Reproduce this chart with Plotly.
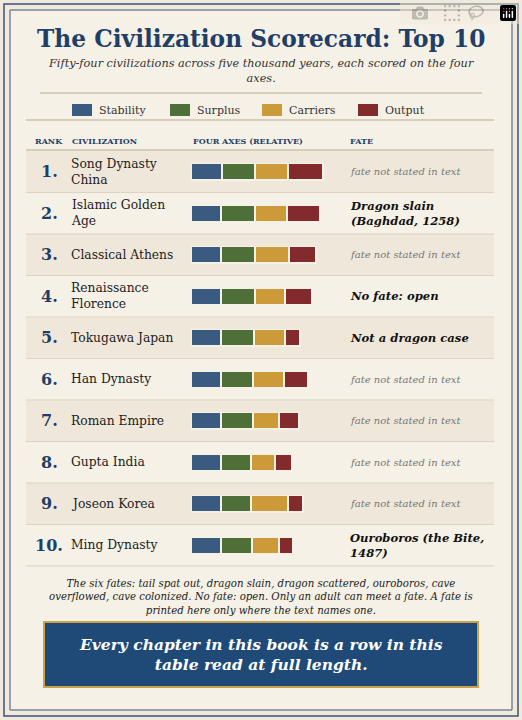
import plotly.graph_objects as go

W, H = 522, 720

ranks = ["1.", "2.", "3.", "4.", "5.", "6.", "7.", "8.", "9.", "10."]
names = ["Song Dynasty<br>China", "Islamic Golden<br>Age", "Classical Athens", "Renaissance<br>Florence",
         "Tokugawa Japan", "Han Dynasty", "Roman Empire", "Gupta India", "Joseon Korea", "Ming Dynasty"]
fates = ["fate not stated in text", "Dragon slain<br>(Baghdad, 1258)", "fate not stated in text",
         "No fate: open", "Not a dragon case", "fate not stated in text", "fate not stated in text",
         "fate not stated in text", "fate not stated in text", "Ouroboros (the Bite,<br>1487)"]
fate_named = [False, True, False, True, True, False, False, False, False, True]

stability = [31, 30, 30, 30, 30, 30, 30, 30, 30, 30]
surplus = [33, 34, 34, 34, 33, 32, 32, 30, 30, 31]
carriers = [33, 32, 34, 30, 31, 31, 26, 24, 37, 27]
output = [35, 33, 27, 27, 15, 24, 20, 17, 15, 14]

axes_names = ["Stability", "Surplus", "Carriers", "Output"]
colors = ["#3a5a80", "#4e7038", "#cc9a38", "#822a2c"]

NAVY = "#1f3f66"
SERIF = "'DejaVu Serif', serif"


def py(y):
    return 1 - y / H


def px(x):
    return x / W


fig = go.Figure()
keys = [str(i) for i in range(10)]
for vals, nm, c in zip([stability, surplus, carriers, output], axes_names, colors):
    fig.add_trace(go.Bar(y=keys, x=vals, orientation="h", name=nm, marker_color=c,
                         marker_line=dict(color="#f6f1e6", width=1.2), width=0.4,
                         showlegend=False, hoverinfo="skip"))

row_top, row_h = 151, 41.5
shapes = [
    dict(type="rect", xref="paper", yref="paper", x0=0, x1=1, y0=0, y1=1,
         fillcolor="#f1eadc", line_width=0, layer="below"),
    dict(type="rect", xref="paper", yref="paper", x0=px(4), x1=px(518), y0=py(716), y1=py(4),
         fillcolor="rgba(0,0,0,0)", line=dict(color="#3a5478", width=1.5), layer="below"),
    dict(type="rect", xref="paper", yref="paper", x0=px(10), x1=px(512), y0=py(710), y1=py(10),
         fillcolor="#f6f1e6", line=dict(color="#3a5478", width=1), layer="below"),
]
for yl in [93, 120, 150]:
    shapes.append(dict(type="line", xref="paper", yref="paper", x0=px(40) if yl == 93 else px(26),
                       x1=px(482) if yl == 93 else px(494), y0=py(yl), y1=py(yl),
                       line=dict(color="#b9ab8c", width=1)))
for i in range(10):
    y0 = row_top + i * row_h
    shapes.append(dict(type="rect", xref="paper", yref="paper", x0=px(26), x1=px(494),
                       y0=py(y0 + row_h), y1=py(y0), fillcolor="#efe8da" if i % 2 == 0 else "#f6f1e6",
                       line_width=0, layer="below"))
    shapes.append(dict(type="line", xref="paper", yref="paper", x0=px(26), x1=px(494),
                       y0=py(y0 + row_h), y1=py(y0 + row_h), line=dict(color="#ddd3c0", width=1)))
shapes.append(dict(type="rect", xref="paper", yref="paper", x0=px(44), x1=px(478), y0=py(687), y1=py(622),
                   fillcolor="#1f4a78", line=dict(color="#c9a24a", width=2)))

ann = []


def text(x, y, t, size, color="#222", anchor="left", bold=False, italic=False, fam=SERIF):
    s = t
    if bold:
        s = "<b>" + s + "</b>"
    if italic:
        s = "<i>" + s + "</i>"
    ann.append(dict(x=px(x), y=py(y), xref="paper", yref="paper", text=s, showarrow=False,
                    xanchor=anchor, yanchor="middle", align=anchor if anchor != "middle" else "center",
                    font=dict(size=size, color=color, family=fam)))


text(261, 38, "The Civilization Scorecard: Top 10", 23.3, NAVY, "center", bold=True)
text(261, 71, "Fifty-four civilizations across five thousand years, each scored on the four<br>axes.",
     11.3, "#333", "center", italic=True)
lx = [72, 170, 262, 358]
for x, nm, c in zip(lx, axes_names, colors):
    shapes.append(dict(type="rect", xref="paper", yref="paper", x0=px(x), x1=px(x + 20),
                       y0=py(116), y1=py(104), fillcolor=c, line_width=0))
    text(x + 25, 110, nm, 11, "#333")
text(33, 141, "RANK", 8, NAVY, bold=True)
text(70, 141, "CIVILIZATION", 8, NAVY, bold=True)
text(191, 141, "FOUR AXES (RELATIVE)", 8, NAVY, bold=True)
text(348, 141, "FATE", 8, NAVY, bold=True)
for i in range(10):
    yc = row_top + i * row_h + row_h / 2
    text(49, yc, ranks[i], 16, NAVY, "center", bold=True)
    text(69, yc, names[i], 12.3, "#222")
    if fate_named[i]:
        text(348, yc, fates[i], 11.6, "#111", bold=True, italic=True)
    else:
        text(348, yc, fates[i], 10, "#777", italic=True)
text(261, 597, "The six fates: tail spat out, dragon slain, dragon scattered, ouroboros, cave<br>"
     "overflowed, cave colonized. No fate: open. Only an adult can meet a fate. A fate is<br>"
     "printed here only where the text names one.", 10.2, "#222", "center", italic=True)
text(261, 654, "Every chapter in this book is a row in this<br>table read at full length.", 15.5,
     "white", "center", bold=True, italic=True)

L = 200
fig.update_layout(
    width=W, height=H, margin=dict(l=0, r=0, t=0, b=0), barmode="stack",
    paper_bgcolor="#f1eadc", plot_bgcolor="rgba(0,0,0,0)", shapes=shapes, annotations=ann,
    xaxis=dict(domain=[px(191), px(191 + L)], range=[0, L], visible=False, fixedrange=True),
    yaxis=dict(domain=[py(row_top + 10 * row_h), py(row_top)], autorange="reversed",
               visible=False, fixedrange=True),
)
fig.write_html("out.html")

# drop the default page margin so the figure sits flush in the window
with open("out.html") as f:
    page = f.read()
page = page.replace("<head>", "<head><style>body{margin:0}</style>", 1)
with open("out.html", "w") as f:
    f.write(page)
